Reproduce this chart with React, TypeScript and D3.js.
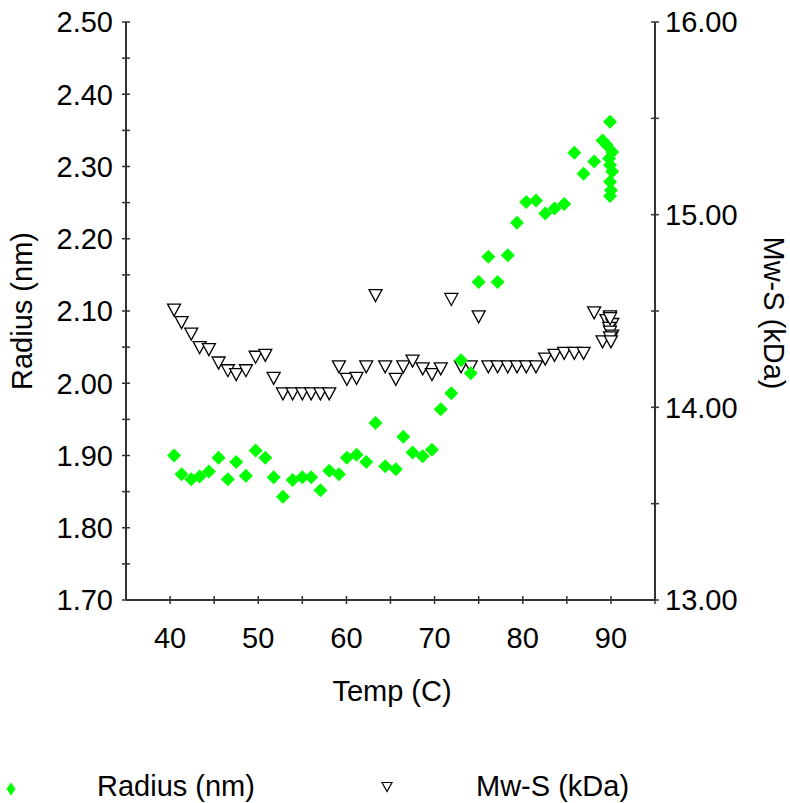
import React from 'react';
import * as d3 from 'd3';

// temperature of each measurement (C)
const temps = [
  40.45, 41.3, 42.4, 43.35, 44.4, 45.5, 46.55, 47.5, 48.6, 49.7,
  50.8, 51.75, 52.8, 53.9, 55.0, 56.0, 57.05, 58.05, 59.15, 60.05,
  61.15, 62.25, 63.3, 64.4, 65.6, 66.45, 67.5, 68.65, 69.7, 70.7,
  71.9, 73.0, 74.1, 75.0, 76.1, 77.15, 78.3, 79.35, 80.4, 81.5,
  82.55, 83.6, 84.7, 85.85, 86.9, 88.1, 89.05,
  89.9, 89.5, 90.15, 89.8, 89.9, 90.15, 89.9, 90.0, 89.9,
];

// Radius (nm), left axis
const radiusNm = [
  1.900, 1.874, 1.867, 1.871, 1.878, 1.897, 1.867, 1.891, 1.872, 1.907,
  1.897, 1.870, 1.843, 1.866, 1.870, 1.870, 1.852, 1.879, 1.874, 1.897,
  1.901, 1.891, 1.945, 1.885, 1.881, 1.926, 1.904, 1.899, 1.908, 1.964,
  1.986, 2.032, 2.014, 2.140, 2.175, 2.140, 2.177, 2.222, 2.251, 2.253,
  2.235, 2.242, 2.248, 2.319, 2.290, 2.307, 2.336,
  2.362, 2.330, 2.320, 2.311, 2.302, 2.293, 2.279, 2.267, 2.259,
];

// Mw-S (kDa), right axis
const mwKDa = [
  14.505, 14.44, 14.38, 14.31, 14.30, 14.23, 14.19, 14.17, 14.19, 14.26,
  14.27, 14.15, 14.07, 14.07, 14.07, 14.07, 14.07, 14.07, 14.21, 14.145,
  14.15, 14.21, 14.58, 14.21, 14.145, 14.21, 14.24, 14.20, 14.17, 14.20,
  14.56, 14.21, 14.21, 14.47, 14.21, 14.21, 14.21, 14.21, 14.21, 14.21,
  14.25, 14.27, 14.28, 14.28, 14.28, 14.49, 14.34,
  14.47, 14.45, 14.43, 14.41, 14.39, 14.37, 14.36, 14.34, 14.46,
];

const xTickLabels = [40, 50, 60, 70, 80, 90];
const radiusTickLabels = [1.7, 1.8, 1.9, 2.0, 2.1, 2.2, 2.3, 2.4, 2.5];
const mwTickLabels = [13, 14, 15, 16];

const W = 790;
const H = 803;
const FONT = '"Liberation Sans", Arial, sans-serif';
const GREEN = '#00ff00';
const AXIS = '#333';

const diamond = (w: number, h: number) =>
  `M0,${-h / 2}L${w / 2},0L0,${h / 2}L${-w / 2},0Z`;
const triangleDown = (w: number, h: number) =>
  `M${-w / 2},${-h / 2}L${w / 2},${-h / 2}L0,${h / 2}Z`;

const App = () => {
  const x = d3.scaleLinear().domain([35, 95]).range([126, 655]);
  const yL = d3.scaleLinear().domain([1.7, 2.5]).range([600, 22]);
  const yR = d3.scaleLinear().domain([13, 16]).range([600, 22]);

  const xMinor = d3.range(40, 95.01, 5);
  const yLMinor = d3.range(1.7, 2.5001, 0.05);
  const yRMinor = d3.range(13, 16.001, 0.5);
  const fmt = d3.format('.2f');
  const tk = 4;

  return (
    <svg width={W} height={H} style={{ position: 'absolute', left: 0, top: 0, background: '#fff' }}
      fontFamily={FONT} fontSize={29}>
      <rect width={W} height={H} fill="#fff" />

      {/* axes */}
      <line x1={x(35)} x2={x(95)} y1={yL(1.7)} y2={yL(1.7)} stroke={AXIS} strokeWidth={2} />
      <line x1={x(35)} x2={x(35)} y1={yL(1.7)} y2={yL(2.5)} stroke={AXIS} strokeWidth={2} />
      <line x1={x(95)} x2={x(95)} y1={yR(13)} y2={yR(16)} stroke={AXIS} strokeWidth={2} />

      {xMinor.map(v => (
        <line key={'xt' + v} x1={x(v)} x2={x(v)} y1={yL(1.7) - tk} y2={yL(1.7) + tk} stroke={AXIS} strokeWidth={1.5} />
      ))}
      {yLMinor.map(v => (
        <line key={'yl' + v} x1={x(35) - tk} x2={x(35) + tk} y1={yL(v)} y2={yL(v)} stroke={AXIS} strokeWidth={1.5} />
      ))}
      {yRMinor.map(v => (
        <line key={'yr' + v} x1={x(95) - tk} x2={x(95) + tk} y1={yR(v)} y2={yR(v)} stroke={AXIS} strokeWidth={1.5} />
      ))}

      {xTickLabels.map(v => (
        <text key={'xl' + v} x={x(v)} y={648} textAnchor="middle">{v}</text>
      ))}
      {radiusTickLabels.map(v => (
        <text key={'rl' + v} x={113} y={yL(v)} dy="0.36em" textAnchor="end">{fmt(v)}</text>
      ))}
      {mwTickLabels.map(v => (
        <text key={'ml' + v} x={665} y={yR(v)} dy="0.36em" textAnchor="start">{fmt(v)}</text>
      ))}

      <text x={392} y={701} textAnchor="middle">Temp (C)</text>
      <text transform="translate(32,311) rotate(-90)" textAnchor="middle">Radius (nm)</text>
      <text transform="translate(764,313) rotate(90)" textAnchor="middle">Mw-S (kDa)</text>

      {/* Mw-S markers */}
      {temps.map((t, i) => (
        <path key={'m' + i} d={triangleDown(13, 12)} transform={`translate(${x(t)},${yR(mwKDa[i])})`}
          fill="#fff" stroke="#000" strokeWidth={1.3} />
      ))}
      {/* Radius markers */}
      {temps.map((t, i) => (
        <path key={'r' + i} d={diamond(14, 14)} transform={`translate(${x(t)},${yL(radiusNm[i])})`}
          fill={GREEN} />
      ))}

      {/* legend */}
      <path d={diamond(9, 13)} transform="translate(11,789)" fill={GREEN} />
      <text x={97} y={796}>Radius (nm)</text>
      <path d={triangleDown(10, 9)} transform="translate(387,787)" fill="#fff" stroke="#000" strokeWidth={1.2} />
      <text x={476} y={796}>Mw-S (kDa)</text>
    </svg>
  );
};

export default App;
